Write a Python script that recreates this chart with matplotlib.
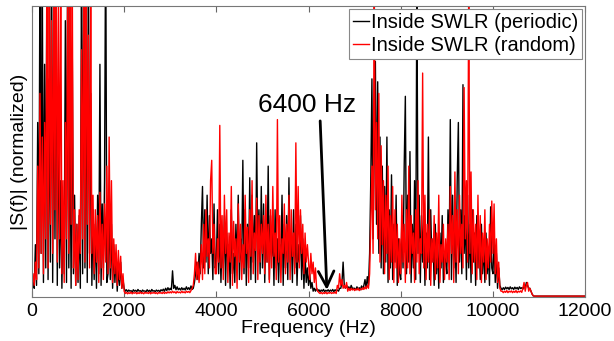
import numpy as np
import matplotlib
matplotlib.use("Agg")
import matplotlib.pyplot as plt

plt.rcParams['font.family'] = ['Liberation Sans', 'DejaVu Sans']

# frequency grid (Hz), 25 Hz step
freq = np.arange(0, 12001, 25)

# |S(f)|, in % of the axis height (>100 is clipped)
periodic = [
    2, 5, 3, 18, 4, 60, 8, 120, 15, 110,
    5, 80, 10, 120, 6, 75, 12, 130, 5, 90,
    20, 115, 4, 70, 10, 40, 3, 30, 8, 95,
    5, 120, 10, 60, 3, 85, 8, 35, 4, 25,
    # 1000
    5, 28, 3, 110, 8, 130, 10, 95, 5, 120,
    15, 70, 4, 30, 6, 25, 3, 35, 8, 80,
    4, 32, 10, 40, 130, 5, 8, 30, 6, 25,
    3, 18, 5, 15, 2, 10, 4, 12, 3, 6,
    # 2000
    3, 2, 2.5, 1.8, 2.4, 2, 2.2, 1.6, 2.5, 2,
    2.3, 1.8, 2.6, 2, 2.2, 1.7, 2.4, 2, 2.1, 1.8,
    2.5, 1.9, 2.3, 1.7, 2.6, 2, 2.2, 1.8, 2.4, 2,
    2.3, 1.8, 2.5, 2.1, 2.7, 2, 3, 2.2, 3.2, 2.4,
    # 3000
    3, 2.5, 9, 3, 4, 2.5, 3.5, 2.5, 3, 2.4,
    3.2, 2.5, 3, 2.4, 3.5, 2.6, 3.2, 2.5, 3.8, 2.6,
    3, 5, 8, 12, 6, 15, 8, 25, 38, 10,
    30, 12, 35, 8, 28, 15, 20, 6, 32, 10,
    # 4000
    12, 30, 8, 25, 5, 20, 10, 28, 4, 22,
    12, 18, 3, 30, 8, 15, 5, 25, 10, 35,
    6, 20, 12, 47, 8, 30, 4, 25, 10, 41,
    6, 35, 12, 28, 5, 53, 15, 30, 8, 38,
    # 5000
    10, 32, 5, 25, 12, 45, 6, 28, 14, 22,
    4, 30, 10, 20, 5, 18, 12, 35, 4, 25,
    10, 28, 6, 41, 12, 22, 5, 30, 10, 25,
    4, 18, 12, 28, 6, 20, 3, 15, 5, 10,
    # 6000
    4, 8, 3, 5, 2, 3, 2, 3, 2, 2.5,
    1.8, 2.4, 2, 2.6, 1.8, 2.3, 2, 2.5, 1.9, 2.4,
    2, 2.6, 1.8, 2.5, 2.1, 2.4, 2, 3, 3, 5,
    12, 4, 3, 4, 3, 3.5, 2.5, 4, 3, 3,
    # 7000
    3, 2.5, 3.5, 2.6, 3.2, 2.5, 3.8, 2.8, 4, 6,
    3, 7, 4, 15, 40, 75, 20, 50, 81, 25,
    74, 15, 55, 10, 45, 8, 38, 12, 55, 5,
    30, 10, 42, 6, 25, 12, 35, 4, 20, 8,
    # 8000
    6, 28, 10, 45, 69, 8, 35, 12, 50, 5,
    25, 10, 40, 6, 110, 15, 35, 5, 28, 12,
    30, 4, 22, 10, 55, 6, 30, 12, 20, 4,
    25, 8, 18, 3, 22, 10, 28, 5, 15, 12,
    # 9000
    8, 30, 12, 61, 6, 35, 10, 25, 5, 40,
    60, 12, 30, 8, 73, 15, 28, 6, 35, 10,
    25, 5, 30, 12, 22, 4, 28, 10, 20, 6,
    25, 8, 18, 5, 22, 8, 15, 4, 31, 10,
    # 10000
    8, 20, 5, 15, 3, 10, 4, 3, 2.5, 3.2,
    2.6, 3.4, 2.8, 3.3, 2.6, 3.5, 2.8, 3.2, 2.6, 3.4,
    2.8, 3.3, 2.6, 3.5, 2.9, 3.2, 2.7, 4, 3, 5,
    4, 3, 3, 2, 1, 0.4, 0.3, 0.3, 0.3, 0.3,
    # 11000 - 12000
    0.3, 0.3, 0.3, 0.3, 0.3, 0.3, 0.3, 0.3, 0.3, 0.3,
    0.3, 0.3, 0.3, 0.3, 0.3, 0.3, 0.3, 0.3, 0.3, 0.3,
    0.3, 0.3, 0.3, 0.3, 0.3, 0.3, 0.3, 0.3, 0.3, 0.3,
    0.3, 0.3, 0.3, 0.3, 0.3, 0.3, 0.3, 0.3, 0.3, 0.3,
    0.3,
]

random_ = [
    3, 8, 4, 12, 6, 45, 10, 70, 15, 55,
    8, 60, 20, 105, 10, 120, 25, 95, 15, 110,
    30, 125, 12, 100, 20, 115, 8, 40, 5, 60,
    20, 105, 15, 120, 25, 110, 10, 30, 4, 25,
    # 1000
    6, 30, 15, 85, 20, 110, 12, 120, 25, 90,
    10, 105, 15, 35, 8, 30, 12, 28, 5, 36,
    10, 25, 6, 32, 12, 45, 8, 55, 10, 40,
    5, 20, 8, 18, 4, 16, 6, 14, 3, 8,
    # 2000
    2, 1.2, 1.6, 1.1, 1.5, 1.2, 1.7, 1.1, 1.5, 1.3,
    1.6, 1.1, 1.5, 1.2, 1.7, 1.2, 1.5, 1.1, 1.6, 1.3,
    1.5, 1.2, 1.7, 1.1, 1.5, 1.3, 1.6, 1.2, 1.5, 1.1,
    1.6, 1.3, 1.5, 1.2, 1.7, 1.2, 1.6, 1.3, 1.8, 1.4,
    # 3000
    1.8, 1.4, 2, 1.5, 1.8, 1.3, 1.9, 1.5, 1.7, 1.4,
    2, 1.5, 1.8, 1.4, 2, 1.6, 1.9, 1.5, 2.2, 3,
    4, 8, 15, 6, 12, 5, 10, 18, 6, 25,
    8, 30, 14, 20, 10, 40, 47, 15, 25, 8,
    # 4000
    8, 20, 12, 59, 10, 28, 6, 35, 15, 30,
    5, 22, 12, 38, 4, 26, 14, 20, 3, 32,
    12, 25, 6, 18, 10, 35, 15, 24, 5, 30,
    14, 40, 8, 22, 16, 34, 6, 28, 12, 25,
    # 5000
    15, 28, 8, 35, 12, 25, 5, 30, 10, 38,
    14, 22, 6, 61, 12, 28, 5, 20, 15, 32,
    8, 25, 12, 35, 6, 30, 14, 22, 8, 53,
    12, 38, 10, 30, 15, 25, 8, 22, 12, 18,
    # 6000
    12, 6, 15, 8, 12, 5, 10, 3, 2, 1.5,
    1.2, 1.6, 1.1, 1.5, 1.2, 1.7, 1.1, 1.5, 1.3, 1.6,
    1.2, 1.5, 1.3, 1.7, 1.2, 4, 3, 8, 4, 6,
    3, 4, 3, 5, 2, 3, 2.2, 3, 2.4, 2.8,
    # 7000
    2.2, 2.8, 2.4, 3, 2.2, 2.8, 2.5, 3.2, 2.6, 3.5,
    2.8, 4, 3, 8, 25, 45, 15, 110, 30, 60,
    20, 70, 12, 52, 18, 40, 8, 35, 15, 45,
    6, 28, 12, 38, 5, 30, 10, 25, 5, 20,
    # 8000
    8, 35, 12, 25, 5, 30, 10, 45, 8, 28,
    15, 22, 5, 30, 12, 40, 8, 20, 15, 77,
    10, 35, 6, 25, 12, 30, 4, 20, 12, 28,
    6, 22, 10, 35, 5, 18, 12, 25, 6, 20,
    # 9000
    12, 25, 6, 38, 15, 28, 5, 43, 12, 30,
    8, 35, 15, 25, 10, 72, 20, 40, 12, 110,
    15, 43, 8, 30, 12, 25, 6, 35, 10, 28,
    5, 22, 12, 30, 6, 20, 10, 25, 12, 33,
    # 10000
    15, 32, 8, 20, 5, 12, 3, 2, 2, 1.5,
    2, 1.6, 2.2, 1.5, 2, 1.7, 2.1, 1.5, 2, 1.6,
    2.2, 1.5, 2, 1.7, 2.1, 1.6, 3, 5, 2, 4,
    5, 2, 3, 2, 1, 0.4, 0.3, 0.3, 0.3, 0.3,
    # 11000 - 12000
    0.3, 0.3, 0.3, 0.3, 0.3, 0.3, 0.3, 0.3, 0.3, 0.3,
    0.3, 0.3, 0.3, 0.3, 0.3, 0.3, 0.3, 0.3, 0.3, 0.3,
    0.3, 0.3, 0.3, 0.3, 0.3, 0.3, 0.3, 0.3, 0.3, 0.3,
    0.3, 0.3, 0.3, 0.3, 0.3, 0.3, 0.3, 0.3, 0.3, 0.3,
    0.3,
]

xticks = [0, 2000, 4000, 6000, 8000, 10000, 12000]

fig = plt.figure(figsize=(6.14, 3.41), dpi=100)
ax = fig.add_axes([0.052, 0.129, 0.901, 0.853])

ax.plot(freq, periodic, color='black', lw=1.0, label='Inside SWLR (periodic)')
ax.plot(freq, random_, color='red', lw=1.0, label='Inside SWLR (random)')

ax.set_xlim(0, 12000)
ax.set_ylim(0, 100)
ax.set_xticks(xticks)
ax.set_yticks([])
ax.tick_params(axis='x', direction='in', top=True, length=4, labelsize=14,
               color='#666666', pad=4)
for s in ax.spines.values():
    s.set_color('#777777')

ax.set_xlabel('Frequency (Hz)', fontsize=14, labelpad=0)
ax.set_ylabel('|S(f)| (normalized)', fontsize=14, labelpad=3)

ax.annotate('', xy=(6400, 1.5), xytext=(6250, 61.5),
            arrowprops=dict(arrowstyle='->', lw=2, color='black', mutation_scale=28))
ax.text(4900, 63.5, '6400 Hz', fontsize=19, ha='left', va='baseline')

leg = ax.legend(loc='upper right', fontsize=14.5, handlelength=0.8, handletextpad=0.1,
                borderpad=0.2, labelspacing=0.2, borderaxespad=0.15,
                fancybox=False, framealpha=1, edgecolor='#888888')
leg.get_frame().set_linewidth(0.8)

fig.savefig('out.png', dpi=100)
